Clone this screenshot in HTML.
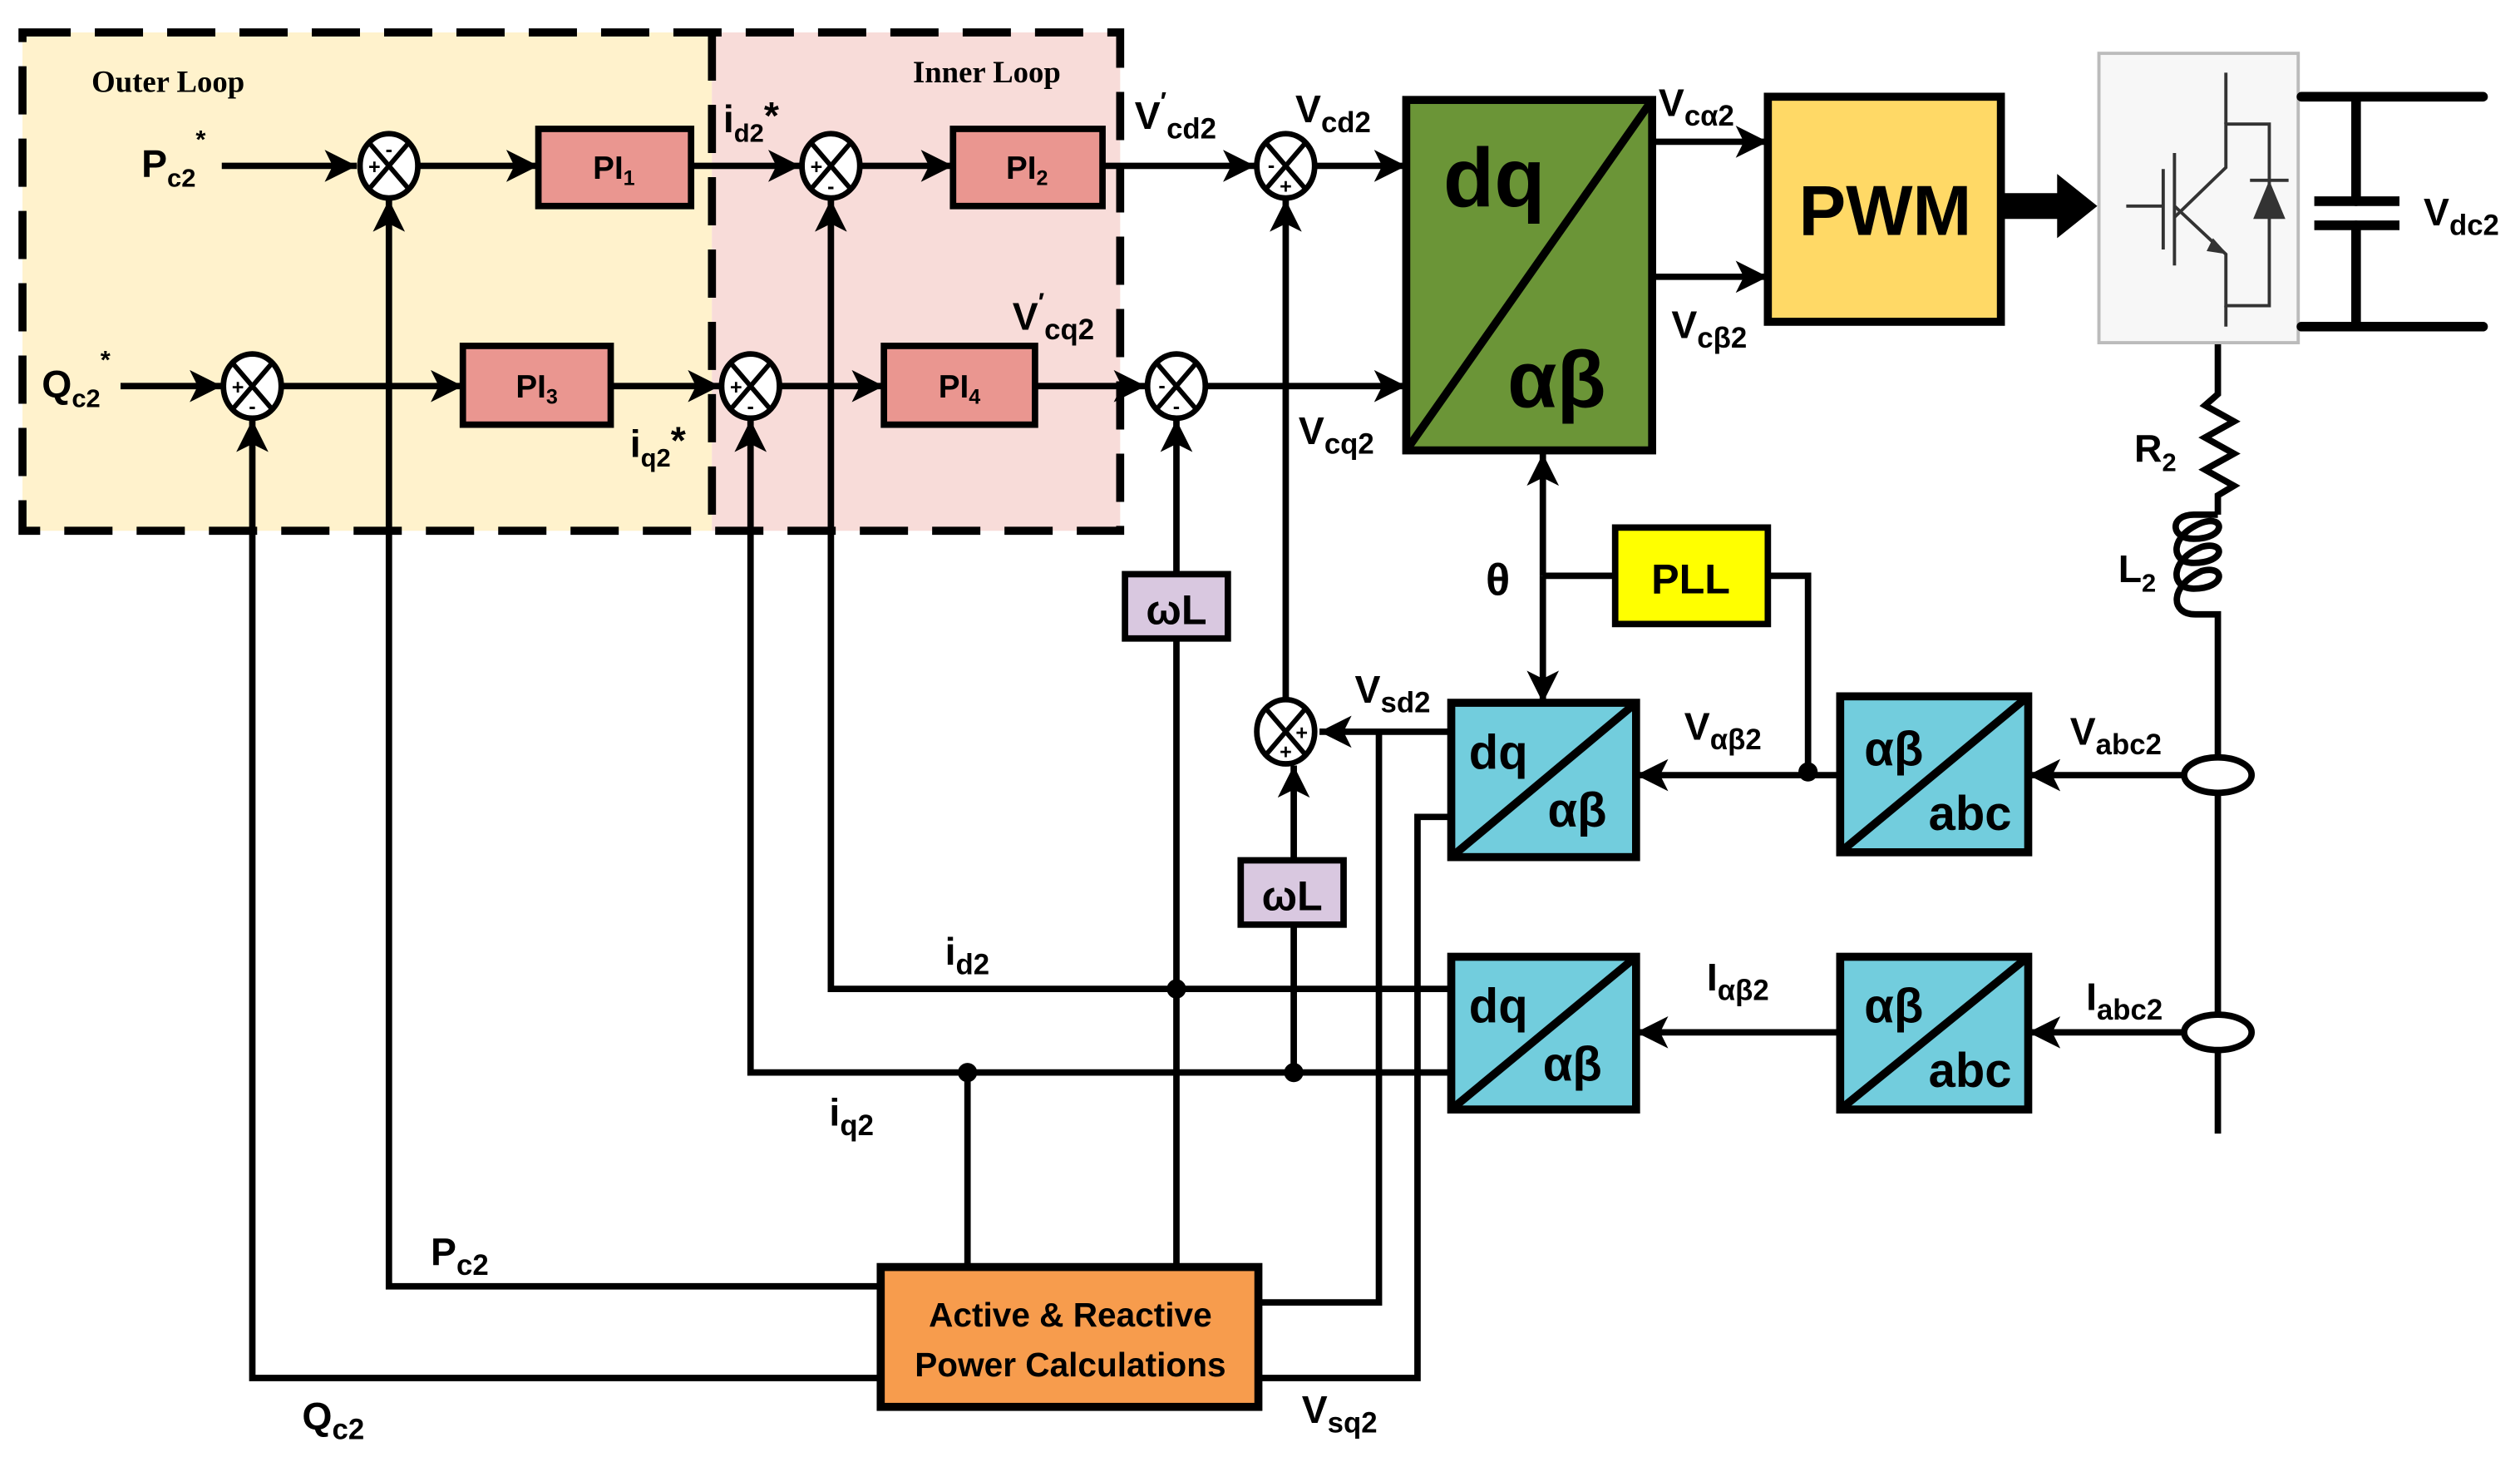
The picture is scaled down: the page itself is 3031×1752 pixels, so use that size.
<!DOCTYPE html>
<html><head><meta charset="utf-8"><style>
html,body{margin:0;padding:0;background:#fff}
svg{display:block}
text{font-family:"Liberation Sans",sans-serif;font-weight:bold;fill:#000}
.s{font-family:"Liberation Serif",serif}
</style></head><body>
<svg width="3031" height="1752" viewBox="0 0 1568 906" xmlns="http://www.w3.org/2000/svg">
<defs>
<marker id="a" markerUnits="userSpaceOnUse" markerWidth="22" markerHeight="20" refX="20" refY="10" orient="auto"><path d="M0,0 L20,10 L0,20 L5,10 Z" fill="#000"/></marker>
</defs>
<!-- loop regions -->
<rect x="14" y="20" width="429" height="310" fill="#fff2cc"/>
<rect x="443" y="20" width="254" height="310" fill="#f8dcd9"/>
<g fill="none" stroke="#000" stroke-width="5" stroke-dasharray="30,15">
<rect x="14" y="20" width="683" height="310"/>
<line x1="443" y1="20" x2="443" y2="330"/>
</g>
<text class="s" x="57" y="57" font-size="19">Outer Loop</text>
<text class="s" x="568" y="51" font-size="19">Inner Loop</text>

<g stroke="#000" stroke-width="4" fill="none">
<!-- row 1 -->
<line x1="138" y1="103" x2="222" y2="103" marker-end="url(#a)"/>
<line x1="261" y1="103" x2="335" y2="103" marker-end="url(#a)"/>
<line x1="430" y1="103" x2="498" y2="103" marker-end="url(#a)"/>
<line x1="536" y1="103" x2="593" y2="103" marker-end="url(#a)"/>
<line x1="686" y1="103" x2="781" y2="103" marker-end="url(#a)"/>
<line x1="819" y1="103" x2="875" y2="103" marker-end="url(#a)"/>
<!-- row 2 -->
<line x1="75" y1="240" x2="138" y2="240" marker-end="url(#a)"/>
<line x1="176" y1="240" x2="288" y2="240" marker-end="url(#a)"/>
<line x1="380" y1="240" x2="448" y2="240" marker-end="url(#a)"/>
<line x1="486" y1="240" x2="550" y2="240" marker-end="url(#a)"/>
<line x1="644" y1="240" x2="713" y2="240" marker-end="url(#a)"/>
<line x1="751" y1="240" x2="875" y2="240" marker-end="url(#a)"/>
<!-- dq outputs -->
<line x1="1028" y1="88" x2="1100" y2="88" marker-end="url(#a)"/>
<line x1="1028" y1="172" x2="1100" y2="172" marker-end="url(#a)"/>
<!-- feedback verticals -->
<polyline points="548,857 157,857 157,261" marker-end="url(#a)"/>
<polyline points="548,800 242,800 242,124" marker-end="url(#a)"/>
<polyline points="903,667 467,667 467,261" marker-end="url(#a)"/>
<polyline points="903,615 517,615 517,124" marker-end="url(#a)"/>
<line x1="732" y1="788" x2="732" y2="397"/>
<line x1="732" y1="357" x2="732" y2="261" marker-end="url(#a)"/>
<line x1="805" y1="667" x2="805" y2="575"/>
<line x1="805" y1="535" x2="805" y2="476" marker-end="url(#a)"/>
<line x1="800" y1="435" x2="800" y2="124" marker-end="url(#a)"/>
<line x1="602" y1="667" x2="602" y2="788"/>
<!-- Vsd / Vsq -->
<line x1="903" y1="455" x2="821" y2="455" marker-end="url(#a)"/>
<polyline points="783,810 858,810 858,455"/>
<polyline points="783,857 882,857 882,508 903,508"/>
<!-- theta -->
<line x1="960" y1="358" x2="960" y2="282" marker-end="url(#a)"/>
<line x1="960" y1="358" x2="960" y2="437" marker-end="url(#a)"/>
<line x1="960" y1="358" x2="1005" y2="358"/>
<polyline points="1100,358 1125,358 1125,482"/>
<!-- abc chains -->
<line x1="1360" y1="482" x2="1262" y2="482" marker-end="url(#a)"/>
<line x1="1145" y1="482" x2="1018" y2="482" marker-end="url(#a)"/>
<line x1="1360" y1="642" x2="1262" y2="642" marker-end="url(#a)"/>
<line x1="1145" y1="642" x2="1018" y2="642" marker-end="url(#a)"/>
<!-- grid line -->
<polyline points="1380,213 1380,245 1372,252 1390,262 1372,272 1390,282 1372,292 1390,302 1380,308 1380,320"/>
<path d="M1380,320 L1365,320 C1350,320 1350,335 1365,335 C1385,335 1385,320 1370,325 C1350,333 1350,350 1365,350 C1385,350 1385,336 1370,340 C1350,348 1350,366 1365,366 C1385,366 1385,351 1370,355 C1350,364 1350,382 1366,382 L1380,382 L1380,470"/>
<line x1="1380" y1="494" x2="1380" y2="630"/>
<line x1="1380" y1="654" x2="1380" y2="705"/>
</g>
<g fill="none" stroke="#000" stroke-width="4">
<ellipse cx="1380" cy="482" rx="21" ry="11"/>
<ellipse cx="1380" cy="642" rx="21" ry="11"/>
</g>
<!-- dots -->
<g fill="#000">
<circle cx="732" cy="615" r="6"/><circle cx="602" cy="667" r="6"/><circle cx="805" cy="667" r="6"/><circle cx="1125" cy="480" r="6"/>
</g>
<!-- PWM big arrow -->
<path d="M1245,120 L1280,120 L1280,108 L1305,128 L1280,148 L1280,136 L1245,136 Z" fill="#000"/>

<!-- PI boxes -->
<g stroke="#000" stroke-width="4" fill="#ea9690">
<rect x="335" y="80" width="95" height="48"/>
<rect x="593" y="80" width="93" height="48"/>
<rect x="288" y="215" width="92" height="49"/>
<rect x="550" y="215" width="94" height="49"/>
</g>
<g font-size="20" text-anchor="middle">
<text x="382" y="111">PI<tspan font-size="13" dy="4">1</tspan></text>
<text x="639" y="111">PI<tspan font-size="13" dy="4">2</tspan></text>
<text x="334" y="247">PI<tspan font-size="13" dy="4">3</tspan></text>
<text x="597" y="247">PI<tspan font-size="13" dy="4">4</tspan></text>
</g>

<!-- sum junctions -->
<g stroke="#000" stroke-width="3.5" fill="#fff">
<ellipse cx="242" cy="103" rx="18" ry="20"/><ellipse cx="517" cy="103" rx="18" ry="20"/><ellipse cx="800" cy="103" rx="18" ry="20"/>
<ellipse cx="157" cy="240" rx="18" ry="20"/><ellipse cx="467" cy="240" rx="18" ry="20"/><ellipse cx="732" cy="240" rx="18" ry="20"/>
<ellipse cx="800" cy="455" rx="18" ry="20"/>
</g>
<g stroke="#000" stroke-width="3">
<path d="M230,89 L254,117 M254,89 L230,117"/><path d="M505,89 L529,117 M529,89 L505,117"/><path d="M788,89 L812,117 M812,89 L788,117"/>
<path d="M145,226 L169,254 M169,226 L145,254"/><path d="M455,226 L479,254 M479,226 L455,254"/><path d="M720,226 L744,254 M744,226 L720,254"/>
<path d="M788,441 L812,469 M812,441 L788,469"/>
</g>
<g font-size="13" text-anchor="middle">
<text x="233" y="108">+</text><text x="242" y="97">-</text>
<text x="508" y="108">+</text><text x="517" y="120">-</text>
<text x="791" y="107">-</text><text x="800" y="120">+</text>
<text x="148" y="245">+</text><text x="157" y="257">-</text>
<text x="458" y="245">+</text><text x="467" y="257">-</text>
<text x="723" y="244">-</text><text x="732" y="257">-</text>
<text x="810" y="460">+</text><text x="800" y="472">+</text>
</g>

<!-- green dq box -->
<rect x="875" y="62" width="153" height="218" fill="#6b9537" stroke="#000" stroke-width="5"/>
<line x1="875" y1="280" x2="1028" y2="62" stroke="#000" stroke-width="5"/>
<text x="898" y="128" font-size="52">dq</text>
<text x="938" y="253" font-size="50">αβ</text>
<!-- PWM -->
<rect x="1100" y="60" width="145" height="140" fill="#ffd966" stroke="#000" stroke-width="5"/>
<text x="1173" y="146" font-size="44" text-anchor="middle">PWM</text>
<!-- IGBT -->
<rect x="1306" y="33" width="124" height="180" fill="#f7f7f7" stroke="#bbb" stroke-width="2"/>
<g stroke="#333" stroke-width="2" fill="none">
<line x1="1323" y1="128" x2="1346" y2="128"/><line x1="1346" y1="105" x2="1346" y2="155"/>
<line x1="1353" y1="95" x2="1353" y2="165"/>
<polyline points="1353,135 1385,104 1385,77 1412,77 1412,190 1385,190 1385,158 1353,128"/>
<line x1="1385" y1="45" x2="1385" y2="77"/><line x1="1385" y1="190" x2="1385" y2="203"/>
<line x1="1400" y1="112" x2="1424" y2="112"/>
</g>
<path d="M1402,136 L1422,136 L1412,112 Z" fill="#333"/>
<path d="M1377,148 L1386,158 L1373,156 Z" fill="#333"/>
<!-- DC bus -->
<g stroke="#000" stroke-width="6" stroke-linecap="round">
<line x1="1432" y1="60" x2="1545" y2="60"/><line x1="1432" y1="203" x2="1545" y2="203"/>
<line x1="1466" y1="60" x2="1466" y2="125"/><line x1="1466" y1="140" x2="1466" y2="203"/>
<line x1="1440" y1="125" x2="1493" y2="125" stroke-linecap="butt"/><line x1="1440" y1="140" x2="1493" y2="140" stroke-linecap="butt"/>
</g>
<!-- wL boxes -->
<g stroke="#000" stroke-width="4" fill="#d9c8e0">
<rect x="700" y="357" width="64" height="40"/><rect x="772" y="535" width="64" height="40"/>
</g>
<text x="732" y="388" font-size="26" text-anchor="middle">ωL</text>
<text x="804" y="566" font-size="26" text-anchor="middle">ωL</text>
<!-- PLL -->
<rect x="1005" y="328" width="95" height="60" fill="#ffff00" stroke="#000" stroke-width="4"/>
<text x="1052" y="369" font-size="26" text-anchor="middle">PLL</text>
<text x="932" y="370" font-size="28" text-anchor="middle">θ</text>
<!-- blue boxes -->
<g stroke="#000" stroke-width="5" fill="#72cddd">
<rect x="903" y="437" width="115" height="96"/><rect x="1145" y="433" width="117" height="97"/>
<rect x="903" y="595" width="115" height="95"/><rect x="1145" y="595" width="117" height="95"/>
</g>
<g stroke="#000" stroke-width="5">
<line x1="903" y1="533" x2="1018" y2="437"/><line x1="1145" y1="530" x2="1262" y2="433"/>
<line x1="903" y1="690" x2="1018" y2="595"/><line x1="1145" y1="690" x2="1262" y2="595"/>
</g>
<g font-size="30">
<text x="914" y="478">dq</text><text x="963" y="514">αβ</text>
<text x="1160" y="476">αβ</text><text x="1200" y="516">abc</text>
<text x="914" y="636">dq</text><text x="960" y="672">αβ</text>
<text x="1160" y="636">αβ</text><text x="1200" y="676">abc</text>
</g>
<!-- Active & Reactive -->
<rect x="548" y="788" width="235" height="87" fill="#f79c4d" stroke="#000" stroke-width="5"/>
<text x="666" y="825" font-size="21" text-anchor="middle">Active &amp; Reactive</text>
<text x="666" y="856" font-size="21" text-anchor="middle">Power Calculations</text>

<!-- labels -->
<g font-size="24">
<text x="88" y="110">P<tspan font-size="16" dy="6">c2</tspan><tspan font-size="16" dy="-24">*</tspan></text>
<text x="26" y="247">Q<tspan font-size="16" dy="6">c2</tspan><tspan font-size="16" dy="-24">*</tspan></text>
<text x="450" y="82">i<tspan font-size="16" dy="6">d2</tspan><tspan dy="-8">*</tspan></text>
<text x="392" y="284">i<tspan font-size="16" dy="6">q2</tspan><tspan dy="-8">*</tspan></text>
<text x="706" y="80">V<tspan font-size="16" dy="-12">′</tspan><tspan font-size="18" dy="18">cd2</tspan></text>
<text x="630" y="205">V<tspan font-size="16" dy="-12">′</tspan><tspan font-size="18" dy="18">cq2</tspan></text>
<text x="806" y="76">V<tspan font-size="18" dy="6">cd2</tspan></text>
<text x="808" y="276">V<tspan font-size="18" dy="6">cq2</tspan></text>
<text x="1032" y="72">V<tspan font-size="18" dy="6">cα2</tspan></text>
<text x="1040" y="210">V<tspan font-size="18" dy="6">cβ2</tspan></text>
<text x="1508" y="140">V<tspan font-size="18" dy="6">dc2</tspan></text>
<text x="1328" y="287">R<tspan font-size="16" dy="6">2</tspan></text>
<text x="1318" y="362">L<tspan font-size="16" dy="6">2</tspan></text>
<text x="843" y="437">V<tspan font-size="18" dy="6">sd2</tspan></text>
<text x="1048" y="460">V<tspan font-size="18" dy="6">αβ2</tspan></text>
<text x="1288" y="463">V<tspan font-size="18" dy="6">abc2</tspan></text>
<text x="1062" y="616">I<tspan font-size="18" dy="6">αβ2</tspan></text>
<text x="1298" y="628">I<tspan font-size="18" dy="6">abc2</tspan></text>
<text x="588" y="600">i<tspan font-size="18" dy="6">d2</tspan></text>
<text x="516" y="700">i<tspan font-size="18" dy="6">q2</tspan></text>
<text x="268" y="787">P<tspan font-size="18" dy="6">c2</tspan></text>
<text x="188" y="889">Q<tspan font-size="18" dy="6">c2</tspan></text>
<text x="810" y="885">V<tspan font-size="18" dy="6">sq2</tspan></text>
</g>
</svg>
</body></html>
